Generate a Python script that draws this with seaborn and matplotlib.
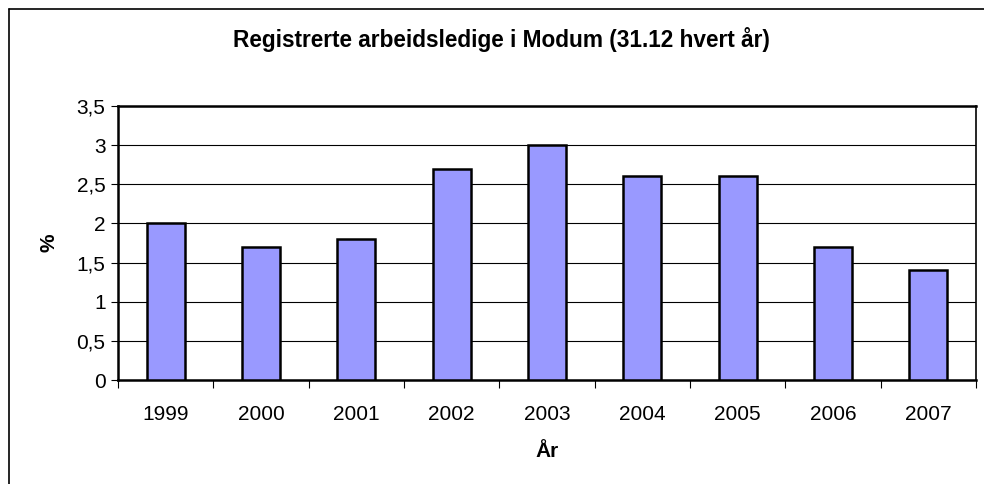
import matplotlib
matplotlib.use("Agg")
import matplotlib.pyplot as plt
import seaborn as sns
import pandas as pd
from matplotlib.lines import Line2D
from matplotlib.ticker import FixedLocator

# data
years = ["1999", "2000", "2001", "2002", "2003", "2004", "2005", "2006", "2007"]
pct = [2.0, 1.7, 1.8, 2.7, 3.0, 2.6, 2.6, 1.7, 1.4]
yticks = [0, 0.5, 1, 1.5, 2, 2.5, 3, 3.5]
ytick_labels = ["0", "0,5", "1", "1,5", "2", "2,5", "3", "3,5"]

df = pd.DataFrame({"year": years, "pct": pct})

sns.set_style("white")
plt.rcParams["font.family"] = ["Liberation Sans", "DejaVu Sans"]
plt.rcParams["text.color"] = "black"
plt.rcParams["xtick.color"] = "black"
plt.rcParams["ytick.color"] = "black"
plt.rcParams["axes.labelcolor"] = "black"

fig = plt.figure(figsize=(9.84, 4.84), dpi=100)
ax = fig.add_axes([118 / 984, 1 - 380 / 484, (976 - 118) / 984, (380 - 106) / 484])

sns.barplot(data=df, x="year", y="pct", color="#9999FF", saturation=1,
            width=0.4, edgecolor="black", linewidth=1.8, ax=ax, zorder=3)

ax.set_ylim(0, 3.5)
ax.set_xlim(-0.5, len(years) - 0.5)
ax.set_yticks(yticks)
ax.set_yticklabels(ytick_labels)
ax.yaxis.grid(True, color="black", linewidth=0.8)
ax.set_axisbelow(True)

# ticks between categories
ax.xaxis.set_minor_locator(FixedLocator([i - 0.5 for i in range(len(years) + 1)]))
ax.tick_params(axis="x", which="minor", length=6, width=0.8, color="black", direction="out", bottom=True)
ax.tick_params(axis="x", which="major", length=0, pad=18, labelsize=15)
ax.tick_params(axis="y", length=5, width=0.8, color="black", direction="out", left=True, labelsize=15, pad=4)

for side in ["left", "bottom", "top", "right"]:
    ax.spines[side].set_visible(True)
    ax.spines[side].set_color("black")
ax.spines["left"].set_linewidth(1.8)
ax.spines["bottom"].set_linewidth(1.8)
ax.spines["top"].set_linewidth(1.8)
ax.spines["right"].set_linewidth(1.2)

ax.set_xlabel("År", fontsize=15, fontweight="bold", labelpad=13)
ax.set_ylabel("%", fontsize=15, fontweight="bold", labelpad=13)

fig.text(501 / 984, 1 - 40 / 484, "Registrerte arbeidsledige i Modum (31.12 hvert år)",
         ha="center", va="center", fontsize=16.3, fontweight="bold")

# outer chart border (top and left visible)
fig.add_artist(Line2D([9 / 984, 1.0], [1 - 9 / 484, 1 - 9 / 484], transform=fig.transFigure, color="black", linewidth=1.2))
fig.add_artist(Line2D([9 / 984, 9 / 984], [0.0, 1 - 9 / 484], transform=fig.transFigure, color="black", linewidth=1.2))

fig.savefig("out.png", dpi=100)
